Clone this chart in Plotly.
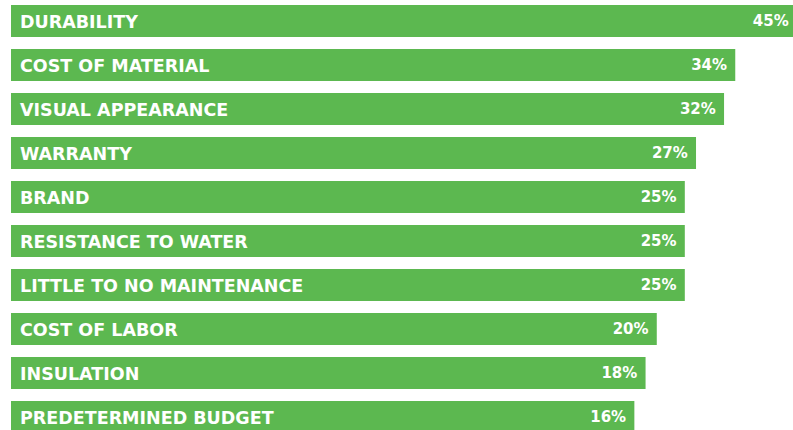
import plotly.graph_objects as go

categories = [
    "DURABILITY", "COST OF MATERIAL", "VISUAL APPEARANCE", "WARRANTY", "BRAND",
    "RESISTANCE TO WATER", "LITTLE TO NO MAINTENANCE", "COST OF LABOR",
    "INSULATION", "PREDETERMINED BUDGET",
]
values = [45, 34, 32, 27, 25, 25, 25, 20, 18, 16]
value_labels = [f"{v}%" for v in values]

# style constants
BAR_COLOR = "#5cb850"
BAR_OFFSET = 95.2       # visual baseline offset (bars do not start at zero in the design)
X_MAX = 44.3
FONT = "DejaVu Sans"

fig = go.Figure()
fig.add_trace(go.Bar(
    y=categories,
    x=[v + BAR_OFFSET for v in values],
    orientation="h",
    marker=dict(color=BAR_COLOR, line=dict(width=0)),
    text=value_labels,
    texttemplate="%{text}\u00a0",
    textposition="inside",
    insidetextanchor="end",
    textangle=0,
    textfont=dict(family=FONT, size=15, color="white", weight="bold"),
    hoverinfo="skip",
))

for cat in categories:
    fig.add_annotation(
        x=0, xref="x", y=cat, yref="y",
        text=cat, showarrow=False,
        xanchor="left", yanchor="middle", xshift=7, yshift=-1,
        font=dict(family=FONT, size=17.5, color="white", weight="bold"),
    )

fig.update_layout(
    width=793, height=430,
    margin=dict(l=11, r=0, t=0, b=0),
    paper_bgcolor="white", plot_bgcolor="white",
    bargap=0.273,
    showlegend=False,
    xaxis=dict(range=[0, X_MAX + BAR_OFFSET], visible=False, fixedrange=True),
    yaxis=dict(range=[9.295, -0.477], visible=False, fixedrange=True,
               categoryorder="array", categoryarray=categories),
)

fig.write_html(
    "out.html",
    config={"displayModeBar": False},
    post_script="document.body.style.margin='0';document.body.style.overflow='hidden';",
)
